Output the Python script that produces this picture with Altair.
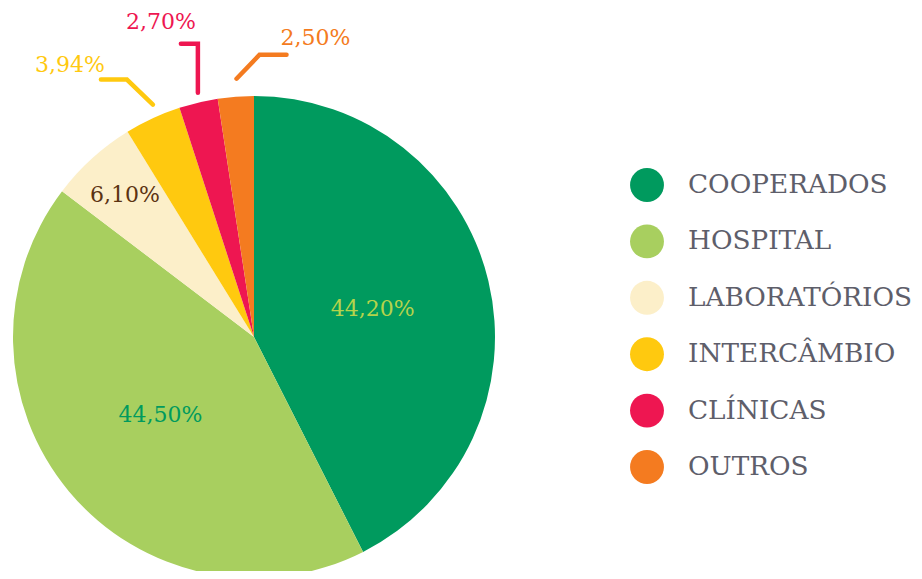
import math
import altair as alt
import pandas as pd

# ---- data ----
categories = ["COOPERADOS", "HOSPITAL", "LABORATÓRIOS", "INTERCÂMBIO", "CLÍNICAS", "OUTROS"]
values = [44.20, 44.50, 6.10, 3.94, 2.70, 2.50]
labels = ["44,20%", "44,50%", "6,10%", "3,94%", "2,70%", "2,50%"]

# ---- styles ----
slice_colors = ["#009A5E", "#A8CF5F", "#FCEFC9", "#FFC90F", "#EE1651", "#F47B20"]
label_colors = ["#B5D34B", "#009A5E", "#5B3311", "#FFC90F", "#EE1651", "#F47B20"]
FONT = "DejaVu Serif"
W, H = 906, 563
CX, CY, R = 246, 329, 241

# label placement: inside labels at radius; outside labels via leader lines
inside_r = {0: 122, 1: 122, 2: 192}
# leader: start radius, start shift, elbow offset, end offset, label offset from end
leaders = {
    3: (255, (6, -1), (-26, -25), (-26, 0), (-31, -15)),
    4: (252, (2, 1), (0, -49), (-17, 0), (-20, -22)),
    5: (258, (2, -1), (23, -24), (27, 0), (29, -17)),
}

total = sum(values)
df = pd.DataFrame({"cat": categories, "value": values, "idx": range(len(values))})

lab_rows, line_rows = [], []
cum = 0.0
for i, v in enumerate(values):
    mid = (cum + v / 2) / total * 2 * math.pi
    cum += v
    if i in inside_r:
        r = inside_r[i]
        lab_rows.append({"cat": categories[i], "label": labels[i], "lc": label_colors[i],
                         "x": CX + r * math.sin(mid), "y": CY - r * math.cos(mid)})
    else:
        r0, sh, el, en, lo = leaders[i]
        x0, y0 = CX + r0 * math.sin(mid) + sh[0], CY - r0 * math.cos(mid) + sh[1]
        x1, y1 = x0 + el[0], y0 + el[1]
        x2, y2 = x1 + en[0], y1 + en[1]
        for k, (px, py) in enumerate([(x0, y0), (x1, y1), (x2, y2)]):
            line_rows.append({"cat": categories[i], "k": k, "x": px, "y": py})
        lab_rows.append({"cat": categories[i], "label": labels[i], "lc": label_colors[i],
                         "x": x2 + lo[0], "y": y2 + lo[1]})

lab_df = pd.DataFrame(lab_rows)
line_df = pd.DataFrame(line_rows)

color_scale = alt.Scale(domain=categories, range=slice_colors)

pie = alt.Chart(df).mark_arc(outerRadius=R, strokeWidth=0).encode(
    theta=alt.Theta("value:Q", stack=True),
    order=alt.Order("idx:Q"),
    x=alt.value(CX),
    y=alt.value(CY),
    color=alt.Color(
        "cat:N",
        scale=color_scale,
        sort=categories,
        legend=alt.Legend(
            title=None,
            orient="none",
            legendX=622,
            legendY=160,
            symbolType="circle",
            symbolSize=1150,
            symbolStrokeWidth=0,
            labelFont=FONT,
            labelFontSize=26.3,
            labelColor="#5E5E6A",
            labelOffset=24,
            labelLimit=400,
            rowPadding=22.4,
            padding=0,
        ),
    ),
)

lines = alt.Chart(line_df).mark_line(strokeWidth=4.5, strokeCap="round", strokeJoin="miter").encode(
    x=alt.X("x:Q", scale=None, axis=None),
    y=alt.Y("y:Q", scale=None, axis=None),
    detail="cat:N",
    order="k:Q",
    color=alt.Color("cat:N", scale=color_scale, legend=None),
)

texts = alt.Chart(lab_df).mark_text(font=FONT, fontSize=22, align="center", baseline="middle").encode(
    x=alt.X("x:Q", scale=None, axis=None),
    y=alt.Y("y:Q", scale=None, axis=None),
    text="label:N",
    color=alt.Color("lc:N", scale=None),
)

chart = alt.layer(pie, lines, texts).properties(
    width=W, height=H, padding=0, background="white",
    autosize=alt.AutoSizeParams(type="none"),
).configure_view(strokeWidth=0, stroke="transparent")

chart.save("out.html", embed_options={"renderer": "svg", "actions": False})
